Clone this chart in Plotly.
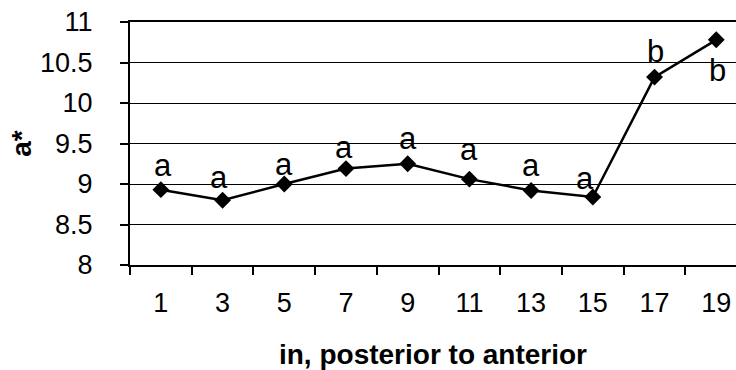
import plotly.graph_objects as go

# ---- data ----
positions = ["1", "3", "5", "7", "9", "11", "13", "15", "17", "19"]
a_star = [8.93, 8.80, 9.00, 9.19, 9.25, 9.06, 8.92, 8.84, 10.32, 10.78]
letters = ["a", "a", "a", "a", "a", "a", "a", "a", "b", "b"]
y_ticks = [8, 8.5, 9, 9.5, 10, 10.5, 11]

# ---- label styling offsets (px) ----
label_dx = [2, -4, 0, -2, 0, 0, 0, -8, 1, 1]
label_dy = [21, 20, 17, 18, 22, 27, 22, 15, 26, -31]

FONT = "Liberation Sans, Arial, sans-serif"

fig = go.Figure()
fig.add_trace(go.Scatter(
    x=positions, y=a_star, mode="lines+markers",
    line=dict(color="black", width=2.5),
    marker=dict(symbol="diamond", size=13, color="black"),
    showlegend=False, hoverinfo="x+y",
))

for i, (yv, t, dx, dy) in enumerate(zip(a_star, letters, label_dx, label_dy)):
    corr = 3 if t == "a" else 0
    fig.add_annotation(
        x=i, y=yv, text=t, showarrow=False,
        xanchor="center", yanchor="middle",
        xshift=dx, yshift=dy + corr,
        font=dict(family=FONT, size=31, color="black"),
    )

fig.update_layout(
    width=736, height=370,
    margin=dict(l=130, r=0, t=22, b=105, autoexpand=False),
    paper_bgcolor="white", plot_bgcolor="white",
    font=dict(family=FONT, color="black"),
)

fig.update_xaxes(
    type="category", categoryorder="array", categoryarray=positions,
    range=[-0.5, 9.32], automargin=False,
    tickson="boundaries", ticks="outside", ticklen=8, tickwidth=1.5, tickcolor="black",
    showline=True, linewidth=2, linecolor="black", mirror=True,
    showgrid=False, zeroline=False,
    tickfont=dict(family=FONT, size=27, color="black"),
    ticklabelstandoff=13,
    title=dict(text="<b>in, posterior to anterior</b>",
               font=dict(family=FONT, size=28, color="black"), standoff=27),
)

fig.update_yaxes(
    range=[8, 11], tickvals=y_ticks, ticktext=[f"{v:g}" for v in y_ticks],
    automargin=False, ticklabeloverflow="allow",
    ticks="outside", ticklen=8, tickwidth=1.5, tickcolor="black",
    showline=True, linewidth=2, linecolor="black", mirror=False,
    showgrid=True, gridcolor="black", gridwidth=1, zeroline=False,
    tickfont=dict(family=FONT, size=27, color="black"),
    ticklabelstandoff=22,
    title=dict(text="<b>a*</b>", font=dict(family=FONT, size=28, color="black"), standoff=0),
)

# remove the page's default 8px body margin so the figure fills the window
fig.write_html("out.html", config={"displayModeBar": False},
               post_script="document.body.style.margin='0';")
